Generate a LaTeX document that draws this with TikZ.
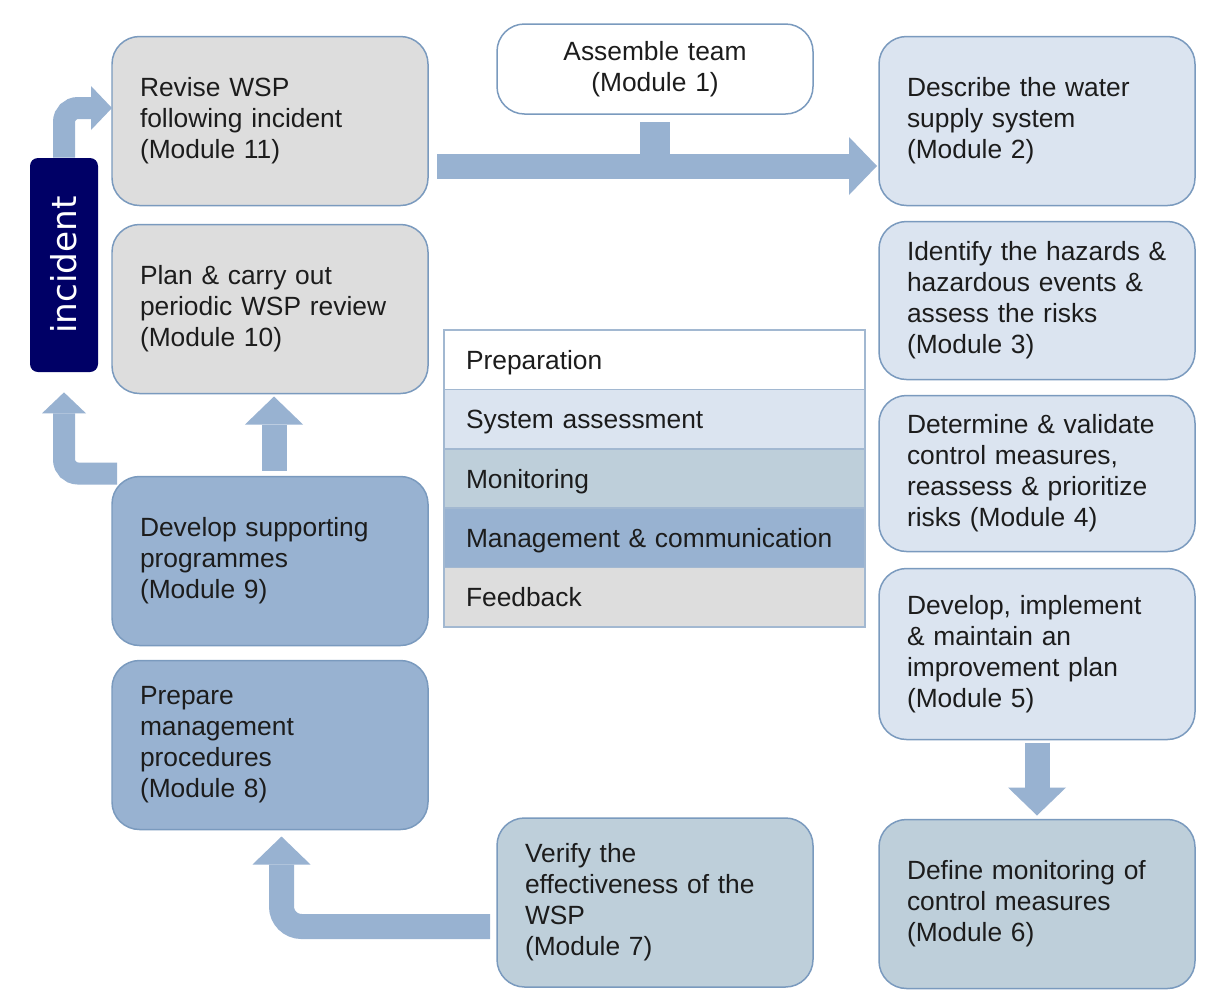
\documentclass[tikz,border=0pt]{standalone}
\usepackage{graphicx}
\usepackage{fontspec}
\setmainfont{Liberation Sans}
\newfontfamily\incfont{DejaVu Sans}
\usepackage{tikz}
\usetikzlibrary{positioning}
\usetikzlibrary{arrows.meta}
\definecolor{boxline}{RGB}{122,154,190}
\definecolor{flowblue}{RGB}{152,178,209}
\definecolor{feedgray}{RGB}{221,221,221}
\definecolor{assessblue}{RGB}{219,228,240}
\definecolor{monblue}{RGB}{190,207,218}
\definecolor{mgmtblue}{RGB}{152,178,209}
\definecolor{incnavy}{RGB}{0,0,102}
\definecolor{textgray}{RGB}{28,28,28}
\tikzstyle{module}=[draw=boxline,line width=0.85pt,rounded corners=0.55cm,outer sep=0pt,
  text width=5.2cm,inner xsep=0.56cm,inner ysep=0pt,minimum height=3.38cm,
  align=left,text=textgray,font=\fontsize{15}{17.6}\selectfont]
\tikzstyle{flow edge}=[draw=flowblue,line width=0.5cm,rounded corners=0.4cm,
  -{Triangle[width=1.16cm,length=0.56cm,line width=0pt]}]
\tikzstyle{small flow edge}=[draw=flowblue,line width=0.44cm,rounded corners=0.28cm,
  -{Triangle[width=0.88cm,length=0.42cm,line width=0pt]}]
\tikzstyle{key row}=[draw=boxline!70,line width=0.85pt,minimum width=8.42cm,outer sep=0pt,
  minimum height=1.188cm,text width=7.54cm,inner xsep=0.44cm,inner ysep=0pt,text depth=0pt,
  align=left,text=textgray,font=\fontsize{15}{17.6}\selectfont]
\newcommand{\wspnode}[3][]{
  \node [module, #1] (#2) {#3}
}
\newcommand{\keynode}[3][]{
  \node [key row, #1] (#2) {#3}
}

\begin{document}
\begin{tikzpicture}
  \fill[white] (0,0) rectangle (24.24,-20.08);
  \useasboundingbox (0,0) rectangle (24.24,-20.08);

  % left column: feedback and management
  \wspnode[fill=feedgray, at={(5.4,-2.42)}]{m11}{Revise WSP\\following incident\\(Module 11)};
  \wspnode[fill=feedgray, below=0.38cm of m11]{m10}{Plan \& carry out\\periodic WSP review\\(Module 10)};
  \wspnode[fill=mgmtblue, below=1.66cm of m10]{m9}{Develop supporting\\programmes\\(Module 9)};
  \wspnode[fill=mgmtblue, below=0.3cm of m9]{m8}{Prepare\\management\\procedures\\(Module 8)};

  % top and bottom middle
  \wspnode[fill=white, align=center, minimum height=1.8cm, at={(13.1,-1.38)}]{m1}{Assemble team\\(Module 1)};
  \wspnode[fill=monblue, at={(13.1,-18.05)}]{m7}{Verify the\\effectiveness of the\\WSP\\(Module 7)};

  % right column: system assessment and monitoring
  \wspnode[fill=assessblue, at={(20.74,-2.42)}]{m2}{Describe the water\\supply system\\(Module 2)};
  \wspnode[fill=assessblue, minimum height=3.16cm, below=0.32cm of m2]{m3}{Identify the hazards \&\\hazardous events \&\\assess the risks\\(Module 3)};
  \wspnode[fill=assessblue, minimum height=3.12cm, below=0.32cm of m3]{m4}{Determine \& validate\\control measures,\\reassess \& prioritize\\risks (Module 4)};
  \wspnode[fill=assessblue, minimum height=3.42cm, below=0.34cm of m4]{m5}{Develop, implement\\\& maintain an\\improvement plan\\(Module 5)};
  \wspnode[fill=monblue, below=1.6cm of m5]{m6}{Define monitoring of\\control measures\\(Module 6)};

  % incident
  \node [fill=incnavy, rounded corners=0.16cm, minimum width=1.36cm, minimum height=4.28cm,
    text=white, font=\incfont\fontsize{19.5}{22}\selectfont] (incident) at (1.28,-5.3)
    {\rotatebox{90}{incident}};

  % key
  \keynode[fill=white, anchor=north west, at={(8.88,-6.6)}]{prep}{Preparation};
  \keynode[fill=assessblue, below=0cm of prep]{assess}{System assessment};
  \keynode[fill=monblue, below=0cm of assess]{monit}{Monitoring};
  \keynode[fill=mgmtblue, below=0cm of monit]{manage}{Management \& communication};
  \keynode[fill=feedgray, below=0cm of manage]{feed}{Feedback};

  % flow arrows
  \coordinate (mainstart) at ([xshift=0.18cm,yshift=-0.9cm]m11.east);
  \draw[flow edge] (mainstart) -- ([xshift=-0.04cm,yshift=-0.9cm]m2.west);
  \draw[draw=flowblue, line width=0.6cm] ([yshift=-0.16cm]m1.south) -- (m1.south |- mainstart);
  \draw[flow edge] ([yshift=-0.06cm]m5.south) -- ([yshift=0.08cm]m6.north);
  \draw[flow edge] ([xshift=-0.14cm,yshift=-0.48cm]m7.west) -| ([xshift=0.23cm,yshift=-0.14cm]m8.south);
  \draw[flow edge] ([xshift=0.08cm,yshift=0.12cm]m9.north) -- ([xshift=0.08cm,yshift=-0.06cm]m10.south);
  \draw[small flow edge] ([shift={(0.1,0.06)}]m9.north west) -| ([yshift=-0.4cm]incident.south);
  \draw[small flow edge] (incident.north) |- ([yshift=0.26cm]m11.west);

\end{tikzpicture}
\end{document}
